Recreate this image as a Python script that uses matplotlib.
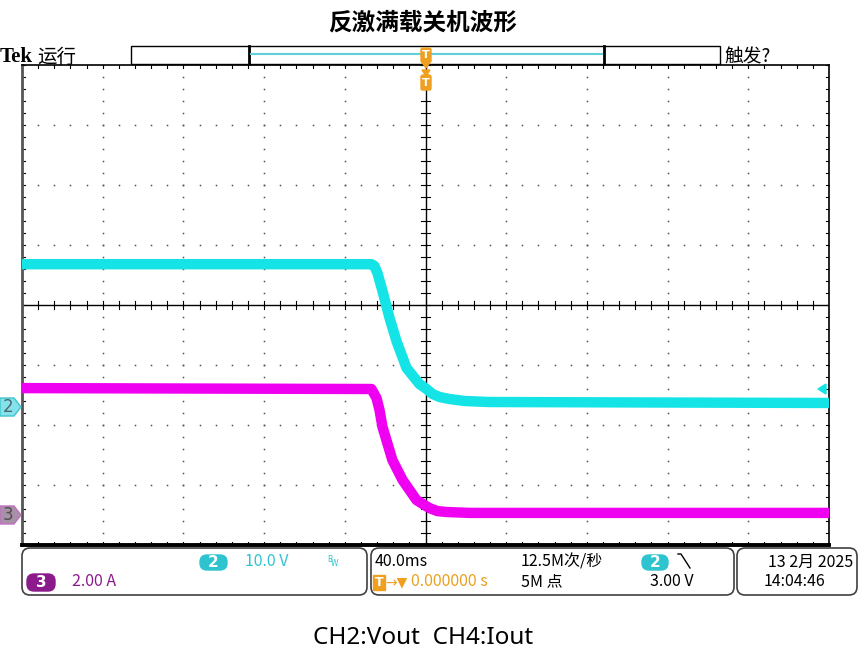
import numpy as np
import matplotlib
matplotlib.use("Agg")
from matplotlib import pyplot as plt
from matplotlib.patches import FancyBboxPatch, Polygon, Rectangle

# CH2 output voltage (V) vs time (ms)
vout_t = [-200, -26.8, -25.3, -23.8, -21.3, -17.8, -14.4, -9.4, -3.0, 0.5,
          3.5, 6.9, 11.9, 19.3, 31.7, 200]
vout_v = [23.8, 23.8, 23.5, 22.3, 19.3, 14.8, 11.0, 6.5, 3.83, 3.0,
          2.17, 1.67, 1.33, 1.0, 0.83, 0.67]

# CH3 output current (A) vs time (ms)
iout_t = [-200, -26.8, -24.3, -22.8, -21.3, -16.4, -11.4, -4.5, -0.5, 2.0,
          5.9, 10.4, 21.8, 200]
iout_a = [4.23, 4.2, 3.9, 3.5, 2.93, 1.83, 1.17, 0.5, 0.33, 0.23,
          0.13, 0.1, 0.07, 0.07]

# scope settings
time_div = 40.0      # ms/div
ch2_div = 10.0       # V/div
ch3_div = 2.0        # A/div
ch2_pos = -1.7       # ground position, div
ch3_pos = -3.5
trig_level = 3.00    # V

title = "反激满载关机波形"
footer = "CH2:Vout  CH4:Iout"

cjk = ['Noto Sans CJK SC', 'DejaVu Sans']
cyan = '#14e4e6'
magenta = '#f000f0'
cyan_txt = '#2ec4cf'
purple = '#8b1a8b'
orange = '#f0a020'

W, H = 859, 661
fig = plt.figure(figsize=(W / 100, H / 100), dpi=100)
fig.patch.set_facecolor('white')

# graticule area in pixels
gx0, gx1, gy0, gy1 = 22, 829, 65, 545
pos = [gx0 / W, 1 - gy1 / H, (gx1 - gx0) / W, (gy1 - gy0) / H]

# graticule axes, in divisions
ax_g = fig.add_axes(pos)
ax_g.set_xlim(-5, 5)
ax_g.set_ylim(-4, 4)
ax_g.set_xticks([])
ax_g.set_yticks([])
for s in ['top', 'right']:
    ax_g.spines[s].set_color('black')
    ax_g.spines[s].set_linewidth(1.2)
ax_g.spines['left'].set_color('#555555')
ax_g.spines['left'].set_linewidth(2)
ax_g.spines['bottom'].set_color('black')
ax_g.spines['bottom'].set_linewidth(2.8)

fine_x = np.arange(-5, 5.01, 0.2)
fine_y = np.arange(-4, 4.01, 0.2)
dot = dict(ls='none', marker='s', ms=1.1, color='#505050', mew=0)
for yy in range(-3, 4):
    if yy != 0:
        ax_g.plot(fine_x, np.full_like(fine_x, yy), **dot)
for xx in range(-4, 5):
    if xx != 0:
        ax_g.plot(np.full_like(fine_y, xx), fine_y, **dot)

# centre cross with ticks
ax_g.axhline(0, color='black', lw=1)
ax_g.axvline(0, color='black', lw=1)
for xv in fine_x:
    ax_g.plot([xv, xv], [-0.06, 0.06], color='black', lw=0.8)
    ax_g.plot([xv, xv], [4, 3.95], color='black', lw=0.8)
    ax_g.plot([xv, xv], [-4, -3.95], color='black', lw=0.8)
for yv in fine_y:
    ax_g.plot([-0.05, 0.05], [yv, yv], color='black', lw=0.8)
    ax_g.plot([-5, -4.96], [yv, yv], color='black', lw=0.8)
    ax_g.plot([5, 4.96], [yv, yv], color='black', lw=0.8)

# channel axes, same box
ax_v = fig.add_axes(pos)
ax_v.set_xlim(-5 * time_div, 5 * time_div)
ax_v.set_ylim((-4 - ch2_pos) * ch2_div, (4 - ch2_pos) * ch2_div)
ax_v.axis('off')
ax_v.patch.set_alpha(0)
ax_v.plot(vout_t, vout_v, color=cyan, lw=7.5, solid_joinstyle='round')

ax_i = fig.add_axes(pos)
ax_i.set_xlim(-5 * time_div, 5 * time_div)
ax_i.set_ylim((-4 - ch3_pos) * ch3_div, (4 - ch3_pos) * ch3_div)
ax_i.axis('off')
ax_i.patch.set_alpha(0)
ax_i.plot(iout_t, iout_a, color=magenta, lw=7.5, solid_joinstyle='round')

# overlay in pixel coords for the scope decorations
ov = fig.add_axes([0, 0, 1, 1])
ov.set_xlim(0, W)
ov.set_ylim(H, 0)
ov.axis('off')
ov.patch.set_alpha(0)

def px_y(ax, val):
    y0, y1 = ax.get_ylim()
    return gy1 - (val - y0) / (y1 - y0) * (gy1 - gy0)

ov.text(423, 22, title, ha='center', va='center', fontsize=17,
        fontweight='bold', family=cjk)
ov.text(423, 638, footer, ha='center', va='center', fontsize=17.5,
        family=['Noto Sans', 'DejaVu Sans'])

ov.text(0, 57, "Tek", ha='left', va='center', fontsize=15,
        fontweight='bold', family=['Liberation Serif', 'DejaVu Serif'])
ov.text(37, 57, "运行", ha='left', va='center', fontsize=14, family=cjk)
ov.text(724, 57, "触发?", ha='left', va='center', fontsize=13.5, family=cjk)

# record view bar
ov.add_patch(Rectangle((131, 46), 589, 18, fc='white', ec='black', lw=1))
ov.plot([249, 249], [46, 64], color='black', lw=2)
ov.plot([604, 604], [46, 64], color='black', lw=2)
ov.plot([251, 602], [54, 54], color='#60d0d8', lw=1.5)

# trigger position markers
ov.add_patch(FancyBboxPatch((421, 48), 10, 14, boxstyle="round,pad=0,rounding_size=2",
                            fc=orange, ec=orange, zorder=5))
ov.add_patch(Polygon([(421, 61), (431, 61), (426, 68)], fc=orange, ec=orange, zorder=5))
ov.text(426, 55, "T", ha='center', va='center', fontsize=8, color='white',
        fontweight='bold', zorder=6)
ov.add_patch(Polygon([(422, 70), (430, 70), (426, 76)], fc=orange, ec=orange, zorder=5))
ov.add_patch(FancyBboxPatch((421, 75), 10, 15, boxstyle="round,pad=0,rounding_size=2",
                            fc=orange, ec=orange, zorder=5))
ov.text(426, 83, "T", ha='center', va='center', fontsize=8, color='white',
        fontweight='bold', zorder=6)

# ground markers on the left
g2 = px_y(ax_v, 0)
g3 = px_y(ax_i, 0)
ov.add_patch(Polygon([(0, g2 - 9), (14, g2 - 9), (21, g2), (14, g2 + 9), (0, g2 + 9)],
                     fc='#86e2ea', ec='#40c4cc', lw=1))
ov.text(8, g2, "2", ha='center', va='center', fontsize=12, color='#4a6a70')
ov.add_patch(Polygon([(0, g3 - 9), (14, g3 - 9), (21, g3), (14, g3 + 9), (0, g3 + 9)],
                     fc='#a890a8', ec='#c070c0', lw=1))
ov.text(8, g3, "3", ha='center', va='center', fontsize=12, color='#505050')

# trigger level arrow on the right
tl = px_y(ax_v, trig_level)
ov.add_patch(Polygon([(818, tl), (826, tl - 5), (826, tl + 5)], fc=cyan, ec=cyan))

# bottom readout panels
for x0, x1 in [(22, 367), (371, 734), (737, 857)]:
    ov.add_patch(FancyBboxPatch((x0, 548), x1 - x0, 47,
                                boxstyle="round,pad=0,rounding_size=8",
                                fc='white', ec='#404040', lw=1.2))

def badge(x, y, w, h, label, color):
    ov.add_patch(FancyBboxPatch((x, y), w, h, boxstyle="round,pad=0,rounding_size=7",
                                fc=color, ec=color))
    ov.text(x + w / 2, y + h / 2, label, ha='center', va='center', fontsize=11,
            color='white', fontweight='bold')

r1, r2 = 562, 582
fs = 11.5
badge(200, 555, 27, 15, "2", cyan_txt)
ov.text(245, r1, "10.0 V", ha='left', va='center', fontsize=fs, color=cyan_txt, family=cjk)
ov.text(327, r1 - 3, "B", ha='left', va='center', fontsize=5.5, color=cyan_txt)
ov.text(331, r1 + 1, "W", ha='left', va='center', fontsize=5.5, color=cyan_txt)
badge(27, 574, 28, 17, "3", purple)
ov.text(72, r2, "2.00 A", ha='left', va='center', fontsize=fs, color=purple, family=cjk)

ov.text(375, r1, "40.0ms", ha='left', va='center', fontsize=fs, color='black', family=cjk)
ov.add_patch(Rectangle((373, 575), 12, 15, fc=orange, ec=orange))
ov.text(379, r2 + 0.5, "T", ha='center', va='center', fontsize=9, color='white', fontweight='bold')
ov.text(385, r2, "→▼", ha='left', va='center', fontsize=10, color=orange, family='DejaVu Sans')
ov.text(411, r2, "0.000000 s", ha='left', va='center', fontsize=fs, color='#e8a020', family=cjk)
ov.text(521, r1, "12.5M次/秒", ha='left', va='center', fontsize=fs, color='black', family=cjk)
ov.text(521, r2, "5M 点", ha='left', va='center', fontsize=fs, color='black', family=cjk)
badge(642, 555, 26, 15, "2", cyan_txt)
ov.plot([678, 681, 690], [554, 554, 568], color='black', lw=1)
ov.text(693, r2, "3.00 V", ha='right', va='center', fontsize=fs, color='black', family=cjk)
ov.text(853, r1, "13 2月 2025", ha='right', va='center', fontsize=fs, color='black', family=cjk)
ov.text(764, r2, "14:04:46", ha='left', va='center', fontsize=fs, color='black', family=cjk)

fig.savefig("out.png", dpi=100)
